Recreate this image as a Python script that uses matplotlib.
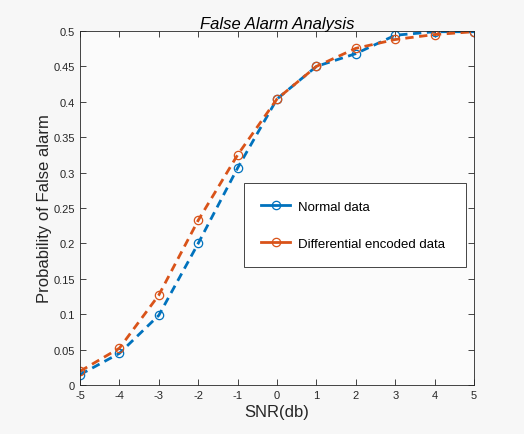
import matplotlib.pyplot as plt
from matplotlib.lines import Line2D

# SNR en dB
snr = [-5, -4, -3, -2, -1, 0, 1, 2, 3, 4, 5]
normal = [0.0146, 0.0447, 0.0984, 0.200, 0.3065, 0.404, 0.450, 0.468, 0.494, 0.499, 0.499]
diferencial = [0.0194, 0.052, 0.127, 0.2326, 0.325, 0.404, 0.450, 0.4755, 0.488, 0.495, 0.499]
nomes = ['Normal data', 'Differential encoded data']
cores = ['#0072BD', '#D95319']

plt.rcParams['font.family'] = ['Liberation Sans', 'DejaVu Sans']
plt.rcParams['axes.unicode_minus'] = False

fig = plt.figure(figsize=(5.24, 4.35), dpi=100, facecolor='#f7f7f7')
ax = fig.add_axes([80/524, 1 - 386/435, 394/524, 354/435], facecolor='#fbfbfb')

for serie, cor in zip([normal, diferencial], cores):
    ax.plot(snr, serie, '--o', color=cor, lw=2, ms=6, mfc='none', mew=0.9, dashes=(3, 2))

ax.set_xlim(-5, 5)
ax.set_ylim(0, 0.5)
ax.set_xticks(snr)
ax.set_yticks([0, 0.05, 0.1, 0.15, 0.2, 0.25, 0.3, 0.35, 0.4, 0.45, 0.5])
ax.set_yticklabels(['0', '0.05', '0.1', '0.15', '0.2', '0.25', '0.3', '0.35', '0.4', '0.45', '0.5'])
ax.tick_params(direction='in', top=True, right=True, labelsize=8, colors='#262626',
               length=4, width=0.6)
for s in ax.spines.values():
    s.set_color('#262626')
    s.set_linewidth(0.6)

ax.set_title('False Alarm Analysis', fontsize=12, style='italic', color='#000000', pad=2)
ax.set_xlabel('SNR(db)', fontsize=12, color='#262626', labelpad=3)
ax.set_ylabel('Probability of False alarm', fontsize=12, color='#262626', labelpad=1)

# legenda com linha continua, como no matlab
handles = [Line2D([], [], color=c, lw=2, marker='o', ms=6, mfc='none', mew=0.9) for c in cores]
leg = ax.legend(handles, nomes, loc='lower left', mode='expand',
                bbox_to_anchor=(164/394, 118/354, 222/394, 85/354),
                fontsize=9.5, frameon=True, fancybox=False,
                edgecolor='#262626', facecolor='#ffffff', framealpha=1,
                handlelength=2.2, handletextpad=0.6, labelspacing=1.9, borderpad=1.3,
                borderaxespad=0)
leg.get_frame().set_linewidth(0.6)

fig.savefig('out.png', dpi=100, facecolor=fig.get_facecolor())
